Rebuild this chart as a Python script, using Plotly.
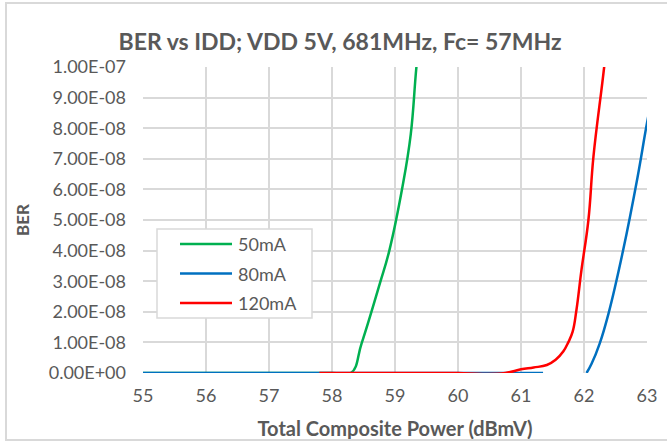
import plotly.graph_objects as go

# ---- data ----
green_x = [55, 56, 57, 58, 58.3, 58.47, 58.76, 58.91, 59.12, 59.25, 59.34, 59.45]
green_y = [0, 0, 0, 0, 0, 0.97e-8, 2.93e-8, 4.0e-8, 6.1e-8, 7.8e-8, 1.0e-7, 1.22e-7]

blue_x = [55, 56, 57, 58, 59, 60, 61, 61.35, None,
          62.04, 62.12, 62.25, 62.39, 62.62, 62.85, 63.0, 63.2]
blue_y = [0, 0, 0, 0, 0, 0, 0, 0, None,
          0, 3.0e-9, 9.7e-9, 1.95e-8, 4.0e-8, 6.4e-8, 8.17e-8, 1.03e-7]

red_x = [57.8, 58.5, 59, 59.5, 60, 60.4, 60.75, 61.0, 61.2, 61.41, 61.55, 61.67, 61.75,
         61.82, 61.88, 61.96, 62.07, 62.15, 62.32, 62.42]
red_y = [0, 0, 0, 0, 0, -0.3e-9, 0, 1.2e-9, 1.8e-9, 2.6e-9, 4.3e-9, 7.0e-9, 1.0e-8,
         1.35e-8, 2.06e-8, 3.37e-8, 5.0e-8, 7.07e-8, 1.0e-7, 1.2e-7]

series_names = ["50mA", "80mA", "120mA"]
series_colors = ["#00B050", "#0070C0", "#FF0000"]

y_tickvals = [0, 1e-8, 2e-8, 3e-8, 4e-8, 5e-8, 6e-8, 7e-8, 8e-8, 9e-8, 1e-7]
y_ticktext = ["0.00E+00", "1.00E-08", "2.00E-08", "3.00E-08", "4.00E-08",
              "5.00E-08", "6.00E-08", "7.00E-08", "8.00E-08", "9.00E-08", "1.00E-07"]
x_tickvals = [55, 56, 57, 58, 59, 60, 61, 62, 63]

FONT = "Lato, 'Open Sans', sans-serif"
GREY_TXT = "#595959"
GRID = "#D9D9D9"

fig = go.Figure()
for xs, ys, name, col in zip([green_x, blue_x, red_x], [green_y, blue_y, red_y],
                             series_names, series_colors):
    fig.add_trace(go.Scatter(x=xs, y=ys, mode="lines", name=name,
                             line=dict(color=col, width=2.5, shape="spline", smoothing=1.2),
                             connectgaps=False, showlegend=False))

W, H = 667, 445
L, R, T, B = 143, 647, 67, 373


def px(x):
    return (x - L) / (R - L)


def py(y):
    return (B - y) / (B - T)


shapes = []
annotations = []
# custom legend
shapes.append(dict(type="rect", xref="paper", yref="paper",
                   x0=px(157), x1=px(312), y0=py(318), y1=py(229),
                   line=dict(color=GRID, width=1.5), fillcolor="white", layer="above"))
for i, (name, col) in enumerate(zip(series_names, series_colors)):
    yy = [244, 273.5, 303][i]
    shapes.append(dict(type="line", xref="paper", yref="paper",
                       x0=px(180), x1=px(232), y0=py(yy), y1=py(yy),
                       line=dict(color=col, width=2.5), layer="above"))
    annotations.append(dict(xref="paper", yref="paper", x=px(236), y=py(yy),
                            text=name, showarrow=False, xanchor="left", yanchor="middle",
                            font=dict(family=FONT, size=18, color=GREY_TXT)))

fig.update_layout(
    width=W, height=H,
    margin=dict(l=L, r=W - R, t=T, b=H - B, autoexpand=False),
    paper_bgcolor="white", plot_bgcolor="white",
    title=dict(text="<b>BER vs IDD; VDD 5V, 681MHz, Fc= 57MHz</b>",
               x=340 / W, xanchor="center", y=1 - 42 / H, yanchor="middle",
               font=dict(family=FONT, size=23, color=GREY_TXT)),
    xaxis=dict(range=[55, 63], tickvals=x_tickvals, showgrid=True, gridcolor=GRID,
               gridwidth=1.5, zeroline=False, showline=False, automargin=False,
               ticks="", ticklabelstandoff=10,
               tickfont=dict(family=FONT, size=18, color=GREY_TXT),
               title=dict(text="<b>Total Composite Power (dBmV)</b>", standoff=16,
                          font=dict(family=FONT, size=20, color=GREY_TXT))),
    yaxis=dict(range=[0, 1e-7], tickvals=y_tickvals, ticktext=y_ticktext,
               showgrid=True, gridcolor=GRID, gridwidth=1.5, zeroline=False,
               showline=False, ticks="", ticklabelstandoff=16, automargin=False,
               tickfont=dict(family=FONT, size=18, color=GREY_TXT),
               title=dict(text="<b>BER</b>", standoff=14,
                          font=dict(family=FONT, size=17, color=GREY_TXT))),
    shapes=shapes, annotations=annotations,
    showlegend=False,
)

# chart-area frame (light grey border around the whole chart, as in the reference)
frame_js = (
    "document.body.style.margin='0';document.body.style.overflow='hidden';"
    "var f=document.createElement('div');"
    "f.style.cssText='position:absolute;left:5px;top:2px;width:700px;height:439px;"
    "border:2px solid #D9D9D9;pointer-events:none;box-sizing:border-box;z-index:10;';"
    "document.body.appendChild(f);"
)
fig.write_html("out.html", config={"displayModeBar": False}, post_script=frame_js)
